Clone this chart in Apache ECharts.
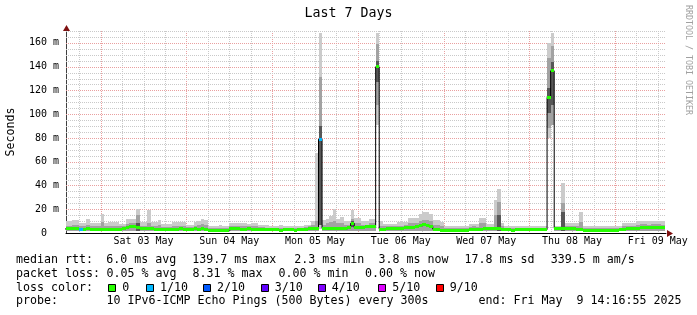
<!DOCTYPE html>
<html><head><meta charset="utf-8">
<script src="https://cdn.jsdelivr.net/npm/echarts@6/dist/echarts.min.js"></script>
<style>html,body{margin:0;padding:0;background:#fff}#c{width:697px;height:315px}</style>
</head><body><div id="c"></div>
<script>
// ---- time axis: hours relative to Sat 03 May 00:00 ----
const axisStart = -9.7, axisEnd = 158.3;
const firstBin = -10; // start hour of first hourly bin
const dayNoon = [12, 36, 60, 84, 108, 132, 156];
const dayLabels = ['Sat 03 May', 'Sun 04 May', 'Mon 05 May', 'Tue 06 May', 'Wed 07 May', 'Thu 08 May', 'Fri 09 May'];
const yTicks = [0, 20, 40, 60, 80, 100, 120, 140, 160];
const yMax = 170;

// ---- median rtt per hour (ms) ----
const median = [
  3.4,3.4,3.4,3.4,3.3,3.3,3.4,3.2,3.2,3.0,
  2.9,2.8,2.8,2.9,3.0,3.2,4.0,4.5,5.2,5.4,4.8,3.8,
  3.6,3.4,3.8,3.3,3.0,3.0,3.2,3.1,3.0,3.3,3.4,3.1,
  3.2,3.0,3.4,3.3,3.6,3.0,2.4,2.3,2.3,2.3,2.4,2.4,
  3.4,3.8,3.5,3.2,3.0,3.4,3.1,2.8,2.8,2.6,2.8,3.0,
  2.7,2.6,2.5,2.6,2.8,2.6,2.5,2.7,3.0,3.2,3.6,4.2,
  4.0,79,4.0,3.5,3.8,4.2,3.6,4.0,3.5,4.5,8.2,4.5,
  4.8,5.0,5.2,5.8,5.5,139.9,3.2,3.2,3.4,3.6,3.8,4.0,
  4.2,4.8,5.0,4.6,5.5,6.0,6.8,6.5,5.5,3.2,2.6,2.4,
  2.3,2.2,2.3,2.3,2.2,2.4,2.5,2.8,3.2,2.8,3.2,3.4,
  3.4,3.6,3.8,3.5,3.0,2.6,2.6,2.5,2.6,2.6,2.6,2.6,
  2.8,2.8,2.8,2.8,2.8,114.2,136.5,4.0,4.2,4.0,4.0,3.8,
  3.6,3.2,3.0,2.5,2.3,2.3,2.2,2.2,2.3,2.2,2.3,2.4,
  2.5,2.8,3.2,3.4,3.8,4.0,4.2,4.4,4.5,4.6,4.4,4.6,
  4.5,4.4
];
// ---- highest ping per hour (ms) ----
const smokeMax = [
  9.7,9.7,10.6,10.6,8.4,8.4,11.4,8.4,8.4,8.4,
  16,8.4,9,9,9,7.5,7.5,11.4,12,12,20,9.5,
  9.5,19,9,9,10.6,7.6,7.6,7.6,9,9,9,9,
  7,7,9,10,12,11,6,5.5,5.5,6.4,6,6,
  8.4,8.4,8,8.4,8.4,7.8,8,8.4,7,7,6.5,6,
  6,6,6.5,6,6,6,5.8,6,6,6.5,7,9.7,
  67,168,10.6,12,14,20.4,12,13.5,10,10,19.6,13,
  13,10,10,12,12,168,10,7.5,7.5,7.5,7.5,9,
  9,9,12.6,12.6,12.6,15.6,17.3,17.3,15.6,11,11,9,
  5.6,5.6,5.6,5.6,5.6,5.6,5.6,7.5,7.5,7.5,12.6,12.6,
  7.5,7.5,27.4,37,8,5.6,5.6,5.6,6,6,6,6,
  6,6,6,6,6,160,168,6,6,42,8,8,
  8,8,17.6,5.6,5.6,5.6,5.6,5.6,5.6,5.6,5.6,5.6,
  5.6,5.6,8,8,8,8,10.3,10.3,10.3,10.3,10.3,10.3,
  10.3,10.3
];
// ---- upper edge of the denser (middle) pings per hour (ms) ----
const smokeMid = [
  6,6,6.5,6.5,5.5,5.5,6.5,5.5,5.5,5.5,
  9,5.5,6,6,6,5.5,5.5,7.5,8,8.5,15,6,
  6,8,6,6,6.5,5,5,5,6,6,6,6,
  5,5,6,6.5,7.5,7,4.5,4,4,4.5,4.5,4.5,
  5.5,6,5.5,5.5,5.5,5.5,5.5,5.5,5,5,4.5,4.5,
  4.5,4.5,4.5,4.5,4.5,4.5,4.2,4.5,4.5,5,5.5,6.5,
  10,131,7,8,9,10,8,8.5,7,7,12,8.5,
  8.5,7,7,8,8,159,6,5.5,5.5,5.5,5.5,6,
  6,6.5,8,8,8.5,10,11,11,10,7,6.5,5.5,
  4,4,4,4,4,4,4,5,5.5,5,8,8,
  5,5,15,26.5,5.5,4,4,4,4.5,4.5,4.5,4.5,
  4.5,4.5,4.5,4.5,4.5,147,157,4.5,4.5,25,6,6,
  6,5.5,9,4,4,4,4,4,4,4,4,4,
  4,4.5,6,6,6,6,7,7.5,7.5,7,7.5,7.5,
  7.5,7
];
const smokeFloor = 1.5;               // lowest ping in quiet hours (ms)
const floorHours = [61, 77, 125, 126]; // hours whose lowest pings were high
const floorMin   = [3, 91, 80, 91];
const floorMid   = [7, 108, 88, 91];
const coreHours  = [10, 61, 70, 77, 111, 125, 126, 129]; // densest pings
const coreLow    = [2, 7, 5, 127, 2, 101, 108, 2];
const coreHigh   = [8, 90, 10, 145, 15, 122, 144, 18];
const lossHours  = [-6, 61];          // hours with packet loss
const lossLevel  = [1, 1];            // lost pings out of 10

const lossColors = {0:'#26ff00',1:'#00b8ff',2:'#0059ff',3:'#5e00ff',4:'#7e00ff',5:'#dd00ff',9:'#ff0000'};
const legendLevels = [0,1,2,3,4,5,9];
const legendNames = ['0','1/10','2/10','3/10','4/10','5/10','9/10'];

// grid: 6-hour verticals (midnights major), 5 ms horizontals (20 ms major)
const gridHours = [-6,0,6,12,18,24,30,36,42,48,54,60,66,72,78,84,90,96,102,108,114,120,126,132,138,144,150,156];
const gridMs = [5,10,15,20,25,30,35,40,45,50,55,60,65,70,75,80,85,90,95,100,105,110,115,120,125,130,135,140,145,150,155,160,165,170];

// ---- build series data ----
const hourOf = i => firstBin + i;
const lightData = [], midData = [], coreData = [], medData = [], lineData = [];
median.forEach((m, i) => {
  const h = hourOf(i);
  const fi = floorHours.indexOf(h);
  const lo = fi >= 0 ? floorMin[fi] : smokeFloor;
  const mlo = fi >= 0 ? floorMid[fi] : smokeFloor;
  lightData.push([h, lo, smokeMax[i]]);
  midData.push([h, mlo, smokeMid[i]]);
  const li = lossHours.indexOf(h);
  medData.push([h, m, li >= 0 ? lossLevel[li] : 0]);
  lineData.push([h, m]);
});
lineData.push([hourOf(median.length), median[median.length - 1]]);
coreHours.forEach((h, k) => coreData.push([h, coreLow[k], coreHigh[k]]));

const MAJOR = '#e9a0a0', MINOR = '#c9c9c9';
function clipX(x, cs) { return Math.min(Math.max(x, cs.x), cs.x + cs.width); }
function bandRender(color) {
  return function (params, api) {
    const cs = params.coordSys;
    const t = api.value(0), lo = api.value(1), hi = api.value(2);
    const a = api.coord([t, hi]), b = api.coord([t + 1, lo]);
    const x0 = clipX(Math.round(a[0]), cs), x1 = clipX(Math.round(b[0]), cs);
    const y0 = Math.round(a[1]), y1 = Math.round(b[1]);
    if (x1 <= x0) return null;
    return { type: 'rect', shape: { x: x0, y: y0, width: x1 - x0, height: y1 - y0 }, style: { fill: color } };
  };
}
function medRender(params, api) {
  const cs = params.coordSys;
  const t = api.value(0), m = api.value(1), l = api.value(2);
  const a = api.coord([t, m]), b = api.coord([t + 1, m]);
  const x0 = clipX(Math.round(a[0]), cs), x1 = clipX(Math.round(b[0]), cs);
  if (x1 <= x0) return null;
  return { type: 'rect', shape: { x: x0, y: Math.round(a[1] - 1.5), width: x1 - x0, height: 3 }, style: { fill: lossColors[l] } };
}
function vGridRender(params, api) {
  const cs = params.coordSys;
  const h = api.value(0);
  const x = Math.round(api.coord([h, 0])[0]) + 0.5;
  return { type: 'line', shape: { x1: x, y1: cs.y, x2: x, y2: cs.y + cs.height },
    style: { stroke: h % 24 === 0 ? MAJOR : MINOR, lineWidth: 1, lineDash: [1, 1] } };
}
function hGridRender(params, api) {
  const cs = params.coordSys;
  const v = api.value(1);
  const y = Math.round(api.coord([axisStart, v])[1]) + 0.5;
  return { type: 'line', shape: { x1: cs.x, y1: y, x2: cs.x + cs.width, y2: y },
    style: { stroke: v % 20 === 0 ? MAJOR : MINOR, lineWidth: 1, lineDash: [1, 1] } };
}

const MONO = 'DejaVu Sans Mono';
const LF = 11.63;
const rowY = [260.3, 273.9, 287.6, 301.3];
const texts = [];
function T(x, y, s, opt) {
  texts.push(Object.assign({ type: 'text', x: x, y: y, silent: true,
    style: Object.assign({ text: s, fontFamily: MONO, fontSize: LF, fill: '#000', verticalAlign: 'middle' }, opt || {}) }));
}
T(16, rowY[0], 'median rtt:');
T(106.3, rowY[0], '6.0 ms avg');
T(192.3, rowY[0], '139.7 ms max');
T(294.3, rowY[0], '2.3 ms min');
T(378.6, rowY[0], '3.8 ms now');
T(464.6, rowY[0], '17.8 ms sd');
T(550.8, rowY[0], '339.5 m am/s');
T(16, rowY[1], 'packet loss:');
T(106.5, rowY[1], '0.05 % avg');
T(192.5, rowY[1], '8.31 % max');
T(278.5, rowY[1], '0.00 % min');
T(365.0, rowY[1], '0.00 % now');
T(16, rowY[2], 'loss color:');
const boxX = [108.3, 146, 203, 260.7, 317.7, 378.3, 435.7];
legendLevels.forEach((lv, k) => {
  texts.push({ type: 'rect', silent: true, shape: { x: Math.round(boxX[k]) + 0.5, y: 284.5, width: 7, height: 7 },
    style: { fill: lossColors[lv], stroke: '#000', lineWidth: 1 } });
  T(boxX[k] + 14, rowY[2], legendNames[k]);
});
T(16, rowY[3], 'probe:');
T(106.5, rowY[3], '10 IPv6-ICMP Echo Pings (500 Bytes) every 300s');
T(681.5, rowY[3], 'end: Fri May  9 14:16:55 2025', { align: 'right' });
T(348.5, 14, 'Last 7 Days', { fontSize: 13.3, align: 'center' });
texts.push({ type: 'text', x: 11, y: 132, rotation: Math.PI / 2, silent: true,
  style: { text: 'Seconds', fontFamily: MONO, fontSize: 11.6, fill: '#000', align: 'center', verticalAlign: 'middle' } });
texts.push({ type: 'text', x: 688, y: 60, rotation: -Math.PI / 2, silent: true,
  style: { text: 'RRDTOOL / TOBI OETIKER', fontFamily: MONO, fontSize: 8.3, fill: '#a0a0a0', align: 'center', verticalAlign: 'middle' } });
// axis arrows
texts.push({ type: 'polygon', silent: true, shape: { points: [[667, 230], [673, 233.5], [667, 237]] }, style: { fill: '#7f1010' } });
texts.push({ type: 'polygon', silent: true, shape: { points: [[63, 31], [66.5, 25], [70, 31]] }, style: { fill: '#7f1010' } });

const chart = echarts.init(document.getElementById('c'), null, { renderer: 'canvas' });
chart.setOption({
  animation: false,
  backgroundColor: '#ffffff',
  grid: { left: 66, right: 31, top: 31, bottom: 82 },
  xAxis: {
    type: 'value', min: axisStart, max: axisEnd,
    splitLine: { show: false }, axisTick: { show: false },
    axisLine: { show: true, onZero: false, lineStyle: { color: '#000', width: 1 } },
    axisLabel: {
      customValues: dayNoon,
      formatter: v => { const k = dayNoon.indexOf(v); return k >= 0 ? dayLabels[k] : ''; },
      fontFamily: MONO, fontSize: 9.97, color: '#000', margin: 3
    }
  },
  yAxis: {
    type: 'value', min: 0, max: yMax,
    splitLine: { show: false }, axisTick: { show: false },
    axisLine: { show: true, onZero: false, lineStyle: { color: '#404040', width: 1 } },
    axisLabel: {
      customValues: yTicks,
      formatter: v => v === 0 ? '0  ' : v + ' m',
      fontFamily: MONO, fontSize: 9.97, color: '#000', margin: 7
    }
  },
  series: [
    { type: 'custom', z: 1, clip: false, silent: true, renderItem: vGridRender, encode: { x: 0 },
      data: gridHours.map(h => [h, 0]) },
    { type: 'custom', z: 1, clip: false, silent: true, renderItem: hGridRender, encode: { y: 1 },
      data: gridMs.map(v => [axisStart, v]) },
    { type: 'custom', z: 2, clip: true, silent: true, renderItem: bandRender('#cbcbcb'), encode: { x: 0, y: [1, 2] }, data: lightData },
    { type: 'custom', z: 3, clip: true, silent: true, renderItem: bandRender('#a2a2a2'), encode: { x: 0, y: [1, 2] }, data: midData },
    { type: 'custom', z: 4, clip: true, silent: true, renderItem: bandRender('#575757'), encode: { x: 0, y: [1, 2] }, data: coreData },
    { type: 'line', z: 5, step: 'end', clip: true, silent: true, showSymbol: false, symbol: 'none',
      lineStyle: { color: '#000', width: 1 }, data: lineData },
    { type: 'custom', z: 6, clip: true, silent: true, renderItem: medRender, encode: { x: 0, y: 1 }, data: medData }
  ],
  graphic: texts
});
</script></body></html>
